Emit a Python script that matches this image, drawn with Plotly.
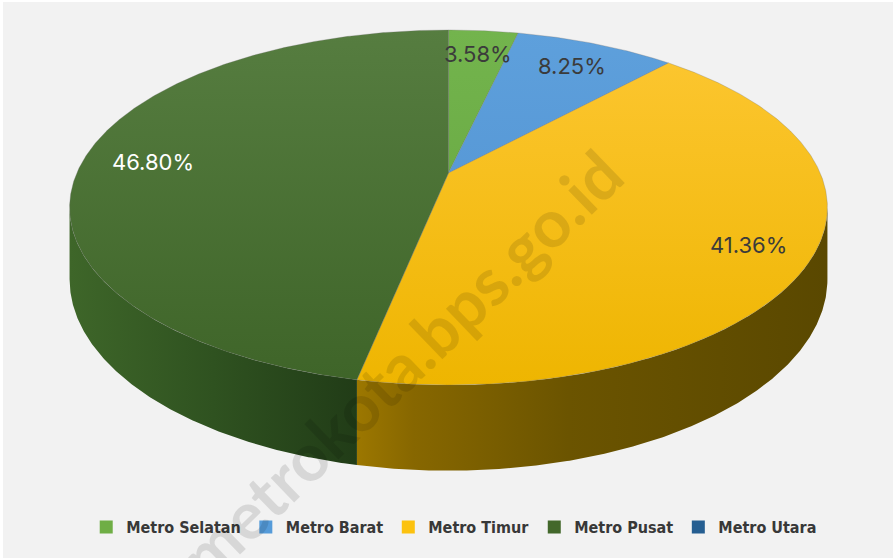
import numpy as np
import plotly.graph_objects as go

# ---------------- data ----------------
categories = ["Metro Selatan", "Metro Barat", "Metro Timur", "Metro Pusat", "Metro Utara"]
values = [3.58, 8.25, 41.36, 46.80, 0.0]
label_text = ["3.58%", "8.25%", "41.36%", "46.80%", ""]

# ---------------- styles ----------------
legend_colors = ["#6fae45", "#559bd9", "#fcc20f", "#43682b", "#255e91"]
top_grad = [("#73b44d", "#63a33d"), ("#5ea0dc", "#4e8fcf"),
            ("#fdc733", "#eeb500"), ("#567d40", "#3e6428"), ("#2b67a0", "#1f5488")]
side_grad = [
    [[0, "#4d7d2e"], [1, "#3b6623"]],
    [[0, "#3d6d9b"], [1, "#2d5a86"]],
    [[0, "#9c7700"], [0.12, "#876700"], [0.45, "#6b5400"], [1, "#5a4800"]],
    [[0, "#3e6629"], [0.5, "#2f5220"], [1, "#213c17"]],
    [[0, "#1f4f7a"], [1, "#173d60"]],
]
label_pos = [(478, 54), (572, 66), (748, 245), (153, 162), None]
label_colors = ["#3b3b3b", "#3b3b3b", "#3b3b3b", "#ffffff", "#3b3b3b"]

W, H = 893, 558
# perspective pie geometry (pixel units)
CX = 448.5          # horizontal centre
BETA = 173.0        # projected centre of the disc (y)
ALPHA = 137.2
GAMMA = -0.1944     # perspective factor
A = 371.7           # horizontal radius
D0 = 69.0           # thickness


def proj(theta_deg):
    t = np.radians(theta_deg)
    u = np.sin(t)
    v = -np.cos(t)
    den = 1 + GAMMA * v
    x = CX + A * u / den
    y = (ALPHA * v + BETA) / den
    return x, y, y + D0 / den


# visible wall range: between the right and left horizontal extremes (through the front)
grid = np.linspace(0, 360, 3601)
gx, _, _ = proj(grid)
th_right = grid[np.argmax(gx)]
th_left = grid[np.argmin(gx)]

total = sum(values)
bounds = np.concatenate([[0], np.cumsum(values) / total * 360])

fig = go.Figure()

# side walls
for i, cat in enumerate(categories):
    a0, a1 = bounds[i], bounds[i + 1]
    lo, hi = max(a0, th_right), min(a1, th_left)
    if hi - lo <= 0:
        continue
    th = np.linspace(lo, hi, max(int((hi - lo) * 3), 2))
    x, yt, yb = proj(th)
    px = np.concatenate([x, x[::-1], [x[0]]])
    py = np.concatenate([yt, yb[::-1], [yt[0]]])
    fig.add_trace(go.Scatter(
        x=px, y=py, mode="lines", fill="toself",
        line=dict(width=0), hoverinfo="skip", showlegend=False,
        fillgradient=dict(type="horizontal", colorscale=side_grad[i],
                          start=float(x.min()), stop=float(x.max())),
    ))

# top faces
for i, cat in enumerate(categories):
    a0, a1 = bounds[i], bounds[i + 1]
    if a1 - a0 <= 0:
        continue
    th = np.linspace(a0, a1, max(int((a1 - a0) * 3), 2))
    x, yt, _ = proj(th)
    px = np.concatenate([[CX], x, [CX]])
    py = np.concatenate([[BETA], yt, [BETA]])
    fig.add_trace(go.Scatter(
        x=px, y=py, mode="lines", fill="toself",
        line=dict(width=0.8, color="rgba(110,110,110,0.35)"),
        hoverinfo="skip", showlegend=False,
        fillgradient=dict(type="vertical",
                          colorscale=[[0, top_grad[i][0]], [1, top_grad[i][1]]],
                          start=30, stop=390),
    ))

# legend entries
for i, cat in enumerate(categories):
    fig.add_trace(go.Scatter(
        x=[None], y=[None], mode="markers", name=cat,
        marker=dict(symbol="square", size=13, color=legend_colors[i]),
    ))

# data labels
for i, txt in enumerate(label_text):
    if not txt or label_pos[i] is None:
        continue
    fig.add_annotation(x=label_pos[i][0], y=label_pos[i][1], text=txt,
                       showarrow=False, xanchor="center", yanchor="middle",
                       font=dict(family="Inter, Lato, sans-serif", size=22,
                                 color=label_colors[i]))

# watermark
fig.add_annotation(x=400, y=364, text="metrokota.bps.go.id", showarrow=False,
                   textangle=-44, xanchor="center", yanchor="middle",
                   font=dict(family="Lato, sans-serif", size=66, weight="bold",
                             color="rgba(0,0,0,0.11)"))

fig.update_layout(
    width=W, height=H, autosize=False,
    margin=dict(l=3, r=0, t=2, b=0),
    paper_bgcolor="#ffffff", plot_bgcolor="#f2f2f2",
    xaxis=dict(range=[3, W], visible=False, fixedrange=True),
    yaxis=dict(range=[H, 2], visible=False, fixedrange=True),
    showlegend=True,
    legend=dict(orientation="h", x=0.507, xanchor="center", y=1 - 527 / H,
                yanchor="middle", bgcolor="rgba(0,0,0,0)", itemwidth=30,
                font=dict(family="DejaVu Sans Condensed, sans-serif",
                          size=16, color="#383838", weight="bold")),
)

fig.write_html("out.html", config={"displayModeBar": False},
               post_script="document.body.style.margin='0';")
